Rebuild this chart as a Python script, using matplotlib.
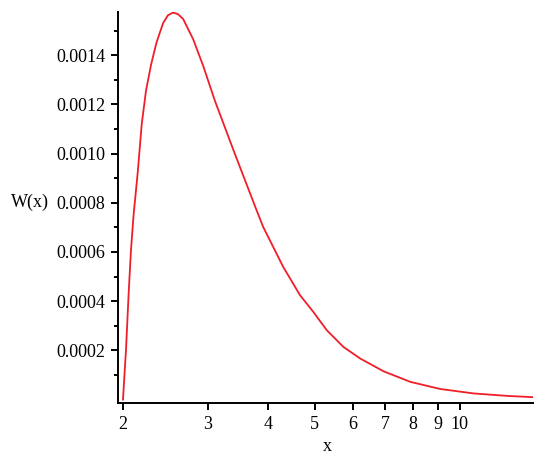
import matplotlib
matplotlib.use("Agg")
import matplotlib.pyplot as plt
from matplotlib.ticker import FixedLocator, NullLocator, FixedFormatter

plt.rcParams['font.family'] = ['Liberation Serif', 'DejaVu Serif']

# values (W in units of 1e-4)
x_vals = [2.0, 2.029, 2.055, 2.078, 2.104, 2.145, 2.188, 2.233, 2.288, 2.347,
          2.384, 2.423, 2.48, 2.54, 2.6, 2.666, 2.797, 2.934, 3.103, 3.414,
          3.789, 3.911, 4.303, 4.663, 4.97, 5.298, 5.737, 6.215, 6.95, 7.9,
          9.116, 10.69, 12.55, 14.15]
w_vals = [0.0, 2.01, 4.31, 6.07, 7.5, 9.18, 11.21, 12.56, 13.62, 14.5,
          14.9, 15.3, 15.62, 15.73, 15.67, 15.47, 14.65, 13.57, 12.15, 9.99,
          7.69, 7.01, 5.39, 4.24, 3.56, 2.82, 2.14, 1.67, 1.15, 0.72,
          0.43, 0.25, 0.15, 0.10]
w_vals = [v * 1e-4 for v in w_vals]

x_ticks = [2, 3, 4, 5, 6, 7, 8, 9, 10]
y_ticks = [0.0002, 0.0004, 0.0006, 0.0008, 0.0010, 0.0012, 0.0014]
y_minor = [0.0001, 0.0003, 0.0005, 0.0007, 0.0009, 0.0011, 0.0013, 0.0015]

fig = plt.figure(figsize=(5.45, 4.57), dpi=100)
ax = fig.add_axes([0.2165, 0.118, 0.7615, 0.8556])

ax.plot(x_vals, w_vals, color='#f01e28', lw=1.3)

ax.set_xscale('log')
ax.set_xlim(1.953, 14.2)
ax.set_ylim(-1.42e-5, 1.575e-3)

ax.xaxis.set_major_locator(FixedLocator(x_ticks))
ax.xaxis.set_major_formatter(FixedFormatter([str(t) for t in x_ticks]))
ax.xaxis.set_minor_locator(NullLocator())
ax.yaxis.set_major_locator(FixedLocator(y_ticks))
ax.yaxis.set_major_formatter(FixedFormatter(['%.4f' % t for t in y_ticks]))
ax.yaxis.set_minor_locator(FixedLocator(y_minor))

for s in ['top', 'right']:
    ax.spines[s].set_visible(False)
for s in ['left', 'bottom']:
    ax.spines[s].set_linewidth(1.4)

ax.tick_params(axis='both', which='major', length=5, width=1.4, labelsize=13, pad=4)
ax.tick_params(axis='y', which='minor', length=3, width=1.4)

ax.set_xlabel('x', fontsize=13)
ax.xaxis.set_label_coords(0.504, -0.0895)
ax.set_ylabel('W(x)', fontsize=13, rotation=0, ha='center', va='center')
ax.yaxis.set_label_coords(-0.212, 0.514)

fig.savefig('out.png', dpi=100)
